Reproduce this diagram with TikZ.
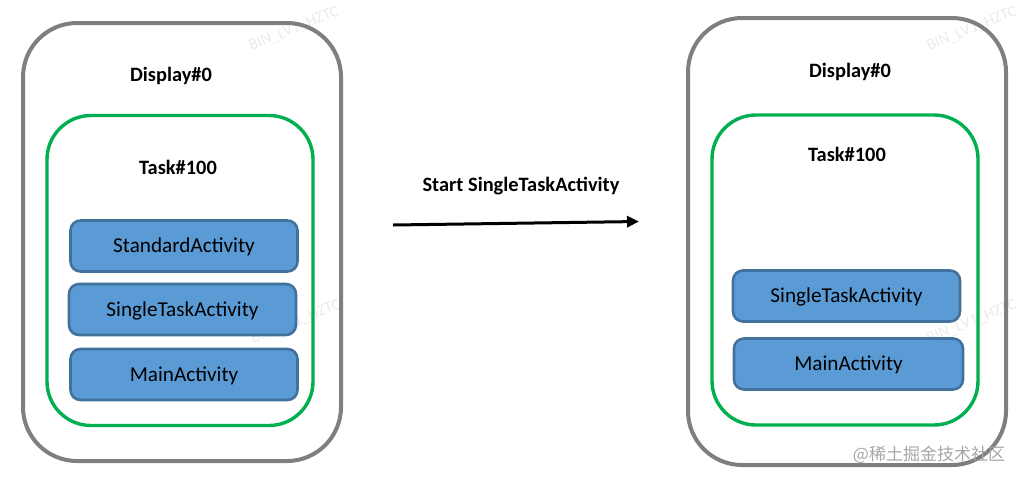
\documentclass[tikz,border=0pt]{standalone}
\usepackage{fontspec}
\setmainfont{Carlito}
\newfontfamily\cjk{Noto Sans CJK SC}
\usepackage{tikz}
\usetikzlibrary{positioning, shapes, arrows.meta}
\usepackage{xcolor}
\definecolor{dispgray}{HTML}{7F7F7F}
\definecolor{taskgreen}{HTML}{00B050}
\definecolor{actfill}{HTML}{5B9BD5}
\definecolor{actline}{HTML}{41719C}

\tikzset{
    displaybox/.style={draw=dispgray, line width=2pt, rounded corners=27pt, minimum width=159pt},
    taskbox/.style={draw=taskgreen, line width=1.7pt, rounded corners=22pt, minimum width=133pt, minimum height=155pt},
    actbox/.style={draw=actline, fill=actfill, line width=1.3pt, rounded corners=5pt, minimum width=113.5pt, minimum height=25.5pt, font=\fontsize{10.6}{12}\selectfont, text depth=0.5pt},
    title/.style={font=\fontsize{10.2}{12}\selectfont\bfseries},
    wmark/.style={font=\fontsize{8}{9}\selectfont, text=black!8, rotate=22, inner sep=0pt}
}

\begin{document}
\begin{tikzpicture}[x=0.5pt, y=-0.5pt]
    \useasboundingbox (0,0) rectangle (1026,483);

    % watermarks
    \node[wmark] (wm1) at (294,29) {BIN\_LV1\_HZTC};
    \node[wmark] (wm2) at (296,322) {BIN\_LV1\_HZTC};
    \node[wmark] (wm3) at (972,29) {BIN\_LV1\_HZTC};
    \node[wmark] (wm4) at (972,322) {BIN\_LV1\_HZTC};

    % left display
    \node[displaybox, minimum height=219pt] (dispL) at (182,242) {};
    \node[taskbox] (taskL) at (180,270.5) {};
    \node[title] (dispLlbl) at (171,76) {Display\#0};
    \node[title] (taskLlbl) at (178,167) {Task\#100};
    \node[actbox] (stdL) at (184,246) {StandardActivity};
    \node[actbox] (singleL) at (182.5,309.5) {SingleTaskActivity};
    \node[actbox] (mainL) at (184,374.5) {MainActivity};

    % right display
    \node[displaybox, minimum height=223.5pt] (dispR) at (847,241.5) {};
    \node[taskbox] (taskR) at (845,270) {};
    \node[title] (dispRlbl) at (850,72) {Display\#0};
    \node[title] (taskRlbl) at (847,154) {Task\#100};
    \node[actbox] (singleR) at (846.5,296) {SingleTaskActivity};
    \node[actbox, minimum width=114.5pt] (mainR) at (848.5,364) {MainActivity};

    % transition
    \coordinate (from) at (393,225);
    \coordinate (to) at (639,221.5);
    \draw[-{Triangle[length=6pt, width=5.5pt]}, line width=1.5pt] (from) -- (to);
    \node[title] (startlbl) at (521,186) {Start SingleTaskActivity};

    % site mark
    \node[font=\cjk\fontsize{8.5}{10}\selectfont, text=black!35] (site) at (929,455) {@稀土掘金技术社区};
\end{tikzpicture}
\end{document}
